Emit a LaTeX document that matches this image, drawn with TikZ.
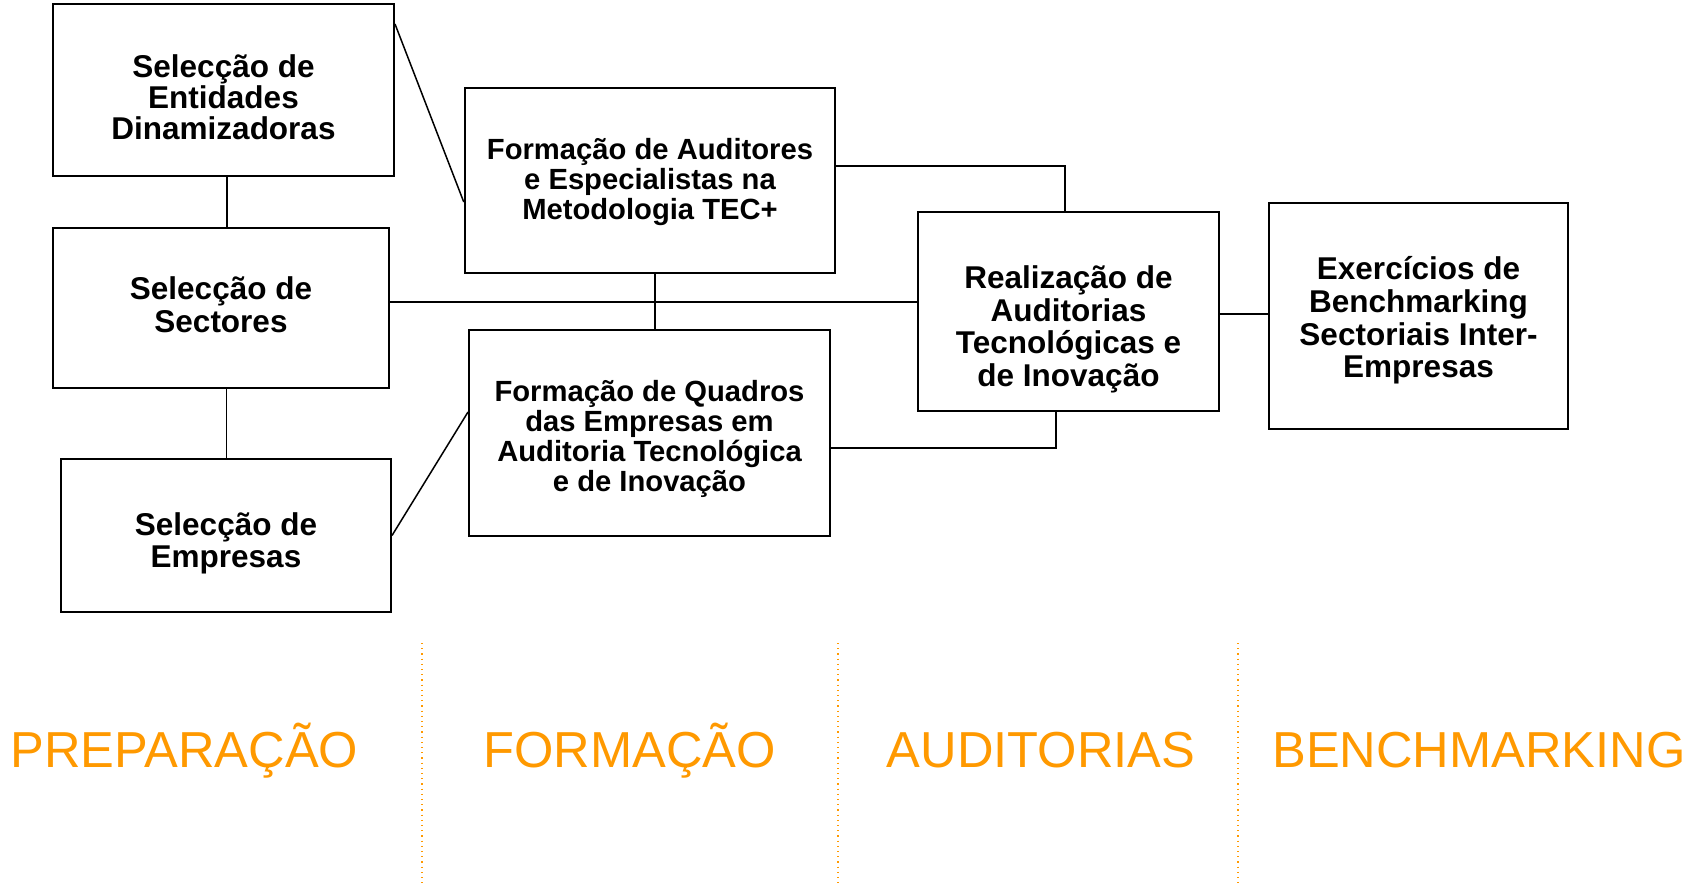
\documentclass[tikz,border=0pt]{standalone}
\usepackage{fontspec}
\setmainfont{Liberation Sans}
\usepackage{xcolor}
\usepackage{tikz}
\definecolor{phaseorange}{HTML}{FF9900}

\begin{document}
\begin{tikzpicture}[x=0.5pt,y=-0.5pt,
                      box node/.style={rectangle,draw,line width=1pt,inner sep=0pt},
                      box text/.style={align=center,inner sep=0pt,
                                       font=\bfseries\fontsize{15.75}{16}\selectfont},
                      small text/.style={box text,font=\bfseries\fontsize{14.6}{15}\selectfont},
                      phase node/.style={anchor=base,text=phaseorange,font=\fontsize{25.3}{30}\selectfont},
                      link/.style={line width=0.75pt},
                      sep line/.style={draw=phaseorange,line width=0.6pt,dotted}]

    \useasboundingbox (0,0) rectangle (1691,883);

    \node[box node,minimum width=170.5pt,minimum height=86pt] (entidades) at (223.5,90) {};
    \node[box node,minimum width=168pt,minimum height=80pt] (sectores) at (221,308) {};
    \node[box node,minimum width=165pt,minimum height=76.5pt] (empresas) at (226,535.5) {};
    \node[box node,minimum width=185.25pt,minimum height=92.5pt] (auditores) at (650,180.5) {};
    \node[box node,minimum width=180.5pt,minimum height=103pt] (quadros) at (649.5,433) {};
    \node[box node,minimum width=150.5pt,minimum height=99.5pt] (auditorias) at (1068.5,311.5) {};
    \node[box node,minimum width=149.5pt,minimum height=113pt] (bench) at (1418.5,316) {};

    \node[box text,font=\bfseries\fontsize{15.75}{15.6}\selectfont] (entidades text)
      at ([yshift=-3.75pt]entidades.center) {Selecção de\\Entidades\\Dinamizadoras};
    \node[box text,font=\bfseries\fontsize{15.75}{16.4}\selectfont] (sectores text)
      at ([yshift=1.6pt]sectores.center) {Selecção de\\Sectores};
    \node[box text] (empresas text) at ([yshift=-4pt]empresas.center) {Selecção de\\Empresas};
    \node[small text] (auditores text) at ([yshift=-1pt]auditores.center)
      {Formação de Auditores\\e Especialistas na\\Metodologia TEC+};
    \node[small text] (quadros text) at ([yshift=-3pt]quadros.center)
      {Formação de Quadros\\das Empresas em\\Auditoria Tecnológica\\e de Inovação};
    \node[box text,font=\bfseries\fontsize{15.75}{16.4}\selectfont] (auditorias text)
      at ([yshift=-8.9pt]auditorias.center) {Realização de\\Auditorias\\Tecnológicas e\\de Inovação};
    \node[box text,font=\bfseries\fontsize{15.75}{16.4}\selectfont] (bench text)
      at ([yshift=-2.2pt]bench.center) {Exercícios de\\Benchmarking\\Sectoriais Inter-\\Empresas};

    \path[link]
      ([xshift=1.75pt]entidades.south) edge ([xshift=1.75pt]entidades.south |- sectores.north)
      ([xshift=2.75pt]sectores.south) edge ([xshift=2.75pt]sectores.south |- empresas.north)
      ([yshift=-10.5pt]entidades.north east) edge ([yshift=-10.75pt]auditores.west)
      (empresas.east) edge ([yshift=10.5pt]quadros.west)
      ([xshift=2.5pt]auditores.south) edge ([xshift=2.5pt]auditores.south |- quadros.north)
      ([yshift=3pt]sectores.east) edge ([yshift=3pt]sectores.east -| auditorias.west)
      ([yshift=-1.25pt]auditorias.east) edge ([yshift=-1.25pt]auditorias.east -| bench.west)
    ;
    \draw[link] ([yshift=7.25pt]auditores.east) -| ([xshift=-1.75pt]auditorias.north);
    \draw[link] ([yshift=-7.5pt]quadros.east) -| ([xshift=-6.25pt]auditorias.south);

    % separadores das fases
    \foreach \sx in {422,838,1238}
      \draw[sep line] (\sx,643) -- (\sx,883);

    \node[phase node] (preparacao) at (184.5,767) {PREPARAÇÃO};
    \node[phase node] (formacao) at (629.5,767) {FORMAÇÃO};
    \node[phase node] (auditoria) at (1041,767) {AUDITORIAS};
    \node[phase node] (benchmarking) at (1479,767) {BENCHMARKING};

\end{tikzpicture}
\end{document}
